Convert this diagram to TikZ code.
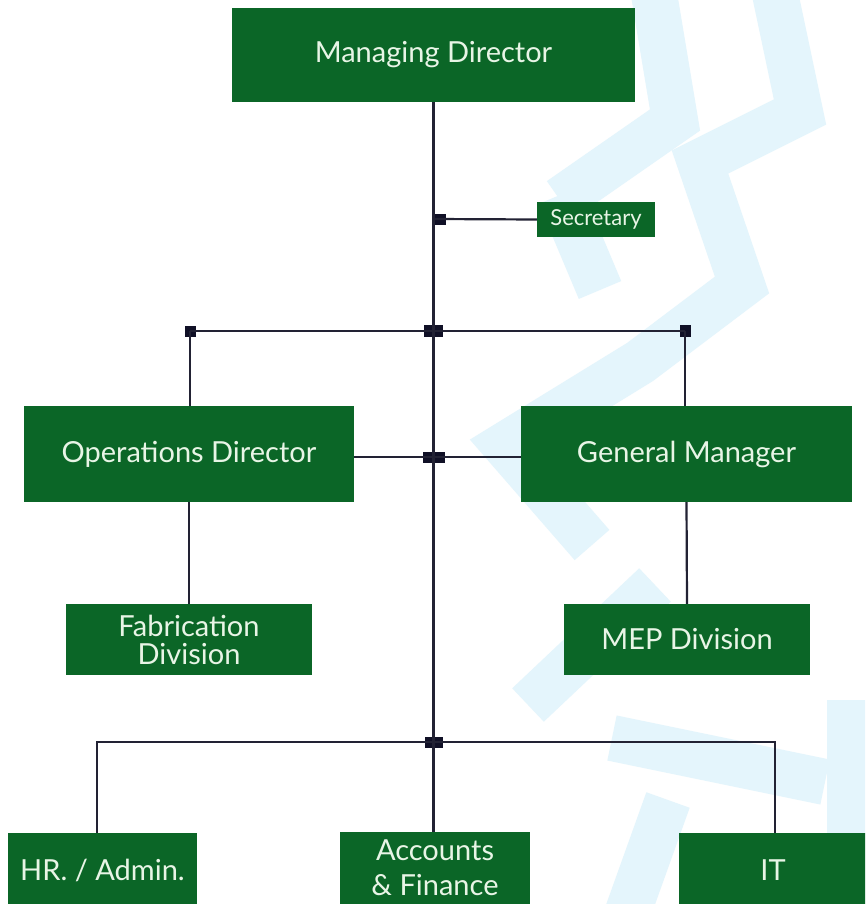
\documentclass[tikz,border=0pt]{standalone}
\usepackage{fontspec}
\setmainfont{Lato}
\definecolor{orggreen}{RGB}{11,102,39}
\definecolor{orgtext}{RGB}{232,245,230}
\definecolor{orgline}{RGB}{34,34,52}
\definecolor{orgdot}{RGB}{16,16,38}
\definecolor{wmblue}{RGB}{228,245,252}
\begin{document}
\begin{tikzpicture}[x=1pt,y=-1pt]

\tikzset{unit/.style = {fill=orggreen, text=orgtext, inner sep=0pt, align=center, font=\fontsize{29}{28}\selectfont},
         link/.style = {draw=orgline, line width=2.2pt},
         joint/.style = {fill=orgdot, inner sep=0pt, minimum width=11pt, minimum height=11pt},
         band/.style = {draw=wmblue, line width=46pt, line join=miter}}

\clip (0,0) rectangle (865,904);
\fill[white] (0,0) rectangle (865,904);

% watermark in the back
\draw[band] (650,-30) -- (675,120) -- (560,200);
\draw[band] (770,-30) -- (800,112) -- (700,162) -- (742,285) -- (640,362) -- (505,445) -- (592,545);
\draw[band] (560,195) -- (600,290);
\draw[band] (655,585) -- (528,705);
\draw[band] (612,738) -- (825,782);
\draw[band] (668,800) -- (625,920);
\draw[band] (850,700) -- (850,920);

% boxes
\node[unit, minimum width=403pt, minimum height=94pt] (MD) at (433.5,55) {Managing Director};
\node[unit, font=\fontsize{22}{22}\selectfont, minimum width=118pt, minimum height=35pt] (Sec) at (596,219.5) {Secretary};
\node[unit, minimum width=330pt, minimum height=96pt] (Ops) at (189,454) {Operations Director};
\node[unit, minimum width=331pt, minimum height=96pt] (GM) at (686.5,454) {General Manager};
\node[unit, minimum width=246pt, minimum height=71pt] (Fab) at (189,639.5) {Fabrication\\Division};
\node[unit, minimum width=246pt, minimum height=71pt] (MEP) at (687,639.5) {MEP Division};
\node[unit, minimum width=189pt, minimum height=74pt] (HR) at (102.5,870) {HR. / Admin.};
\node[unit, font=\fontsize{29}{35}\selectfont, minimum width=190pt, minimum height=72pt] (Acc) at (435,868) {Accounts\\\& Finance};
\node[unit, minimum width=188pt, minimum height=74pt] (IT) at (773,870) {IT};

% junctions
\node[joint] (jSec) at (440,219) {};
\node[joint, minimum width=19pt, minimum height=12pt] (jTop) at (433.5,331) {};
\node[joint] (jL) at (190,331) {};
\node[joint, minimum height=12pt] (jR) at (685,331) {};
\node[joint, minimum width=22pt] (jMid) at (433.5,457) {};
\node[joint, minimum width=18pt] (jBot) at (433.5,742) {};

% connectors
\draw[link] (MD.south) -- (MD.south |- Acc.north);
\draw[link] (MD.south |- jSec) -- (Sec.west);
\draw[link] (jL.center) -- (jR.center);
\draw[link] (jL.center) -- (jL.center |- Ops.north);
\draw[link] (jR.center) -- (jR.center |- GM.north);
\draw[link] (Ops.east |- jMid) -- (GM.west |- jMid);
\draw[link] (Ops.south) -- (Fab.north);
\draw[link] (GM.south) -- (MEP.north);
\draw[link] (jBot.center) -| ([xshift=-5.5pt]HR.north);
\draw[link] (jBot.center) -| ([xshift=2pt]IT.north);

\end{tikzpicture}
\end{document}
